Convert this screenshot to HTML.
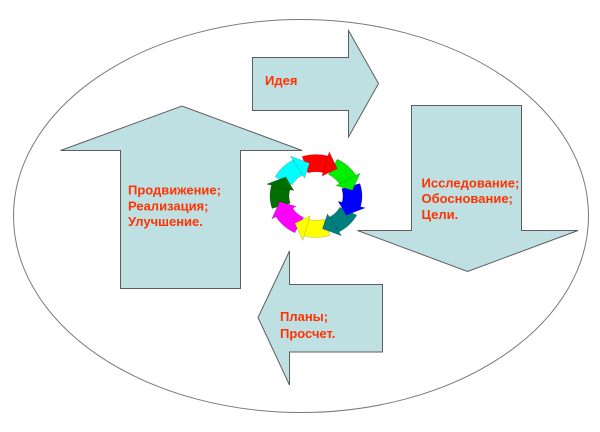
<!DOCTYPE html>
<html>
<head>
<meta charset="utf-8">
<style>
html,body{margin:0;padding:0;background:#fff;}
svg{display:block;}
text{font-family:"Liberation Sans","DejaVu Sans",sans-serif;font-weight:bold;font-size:13px;fill:#ff3300;}
</style>
</head>
<body>
<svg width="600" height="432" viewBox="0 0 600 432" xmlns="http://www.w3.org/2000/svg">
  <ellipse cx="301" cy="216" rx="287.5" ry="196.5" fill="#fff" stroke="#7a7a7a" stroke-width="1"/>

  <!-- Top arrow (right) -->
  <polygon points="252.5,57.5 348.5,57.5 348.5,30.5 378.5,83.5 348.5,137 348.5,110.5 252.5,110.5" fill="#bfe0e3" stroke="#5e5e5e" stroke-width="1"/>
  <!-- Up arrow (left) -->
  <polygon points="120.5,288.5 120.5,150.5 60.5,150.5 182,106 302,150.5 240.5,150.5 240.5,288.5" fill="#bfe0e3" stroke="#5e5e5e" stroke-width="1"/>
  <!-- Down arrow (right) -->
  <polygon points="411.5,105.5 521.5,105.5 521.5,230.5 578,230.5 467.5,271.5 357.5,230.5 411.5,230.5" fill="#bfe0e3" stroke="#5e5e5e" stroke-width="1"/>
  <!-- Left arrow (bottom) -->
  <polygon points="382.5,284.5 382.5,352 289.5,352 289.5,385 258,317.5 289.5,251 289.5,284.5" fill="#bfe0e3" stroke="#5e5e5e" stroke-width="1"/>

  <!-- Cycle ring -->
  <g transform="translate(316,196) scale(1,0.9)" stroke="rgba(0,0,0,0.25)" stroke-width="0.6">
    <g>
      <path transform="rotate(5)" fill="#ff0000" d="M -17.6 -42.5 A 46 46 0 0 1 8.8 -45.2 L 5.2 -26.5 A 27 27 0 0 0 -10.3 -24.9 Z"/>
      <path transform="rotate(50)" fill="#00ee00" d="M -17.6 -42.5 A 46 46 0 0 1 8.8 -45.2 L 5.2 -26.5 A 27 27 0 0 0 -10.3 -24.9 Z"/>
      <path transform="rotate(95)" fill="#0000ff" d="M -17.6 -42.5 A 46 46 0 0 1 8.8 -45.2 L 5.2 -26.5 A 27 27 0 0 0 -10.3 -24.9 Z"/>
      <path transform="rotate(140)" fill="#007f7f" d="M -17.6 -42.5 A 46 46 0 0 1 8.8 -45.2 L 5.2 -26.5 A 27 27 0 0 0 -10.3 -24.9 Z"/>
      <path transform="rotate(185)" fill="#ffff00" d="M -17.6 -42.5 A 46 46 0 0 1 8.8 -45.2 L 5.2 -26.5 A 27 27 0 0 0 -10.3 -24.9 Z"/>
      <path transform="rotate(230)" fill="#ff00ff" d="M -17.6 -42.5 A 46 46 0 0 1 8.8 -45.2 L 5.2 -26.5 A 27 27 0 0 0 -10.3 -24.9 Z"/>
      <path transform="rotate(275)" fill="#006f00" d="M -17.6 -42.5 A 46 46 0 0 1 8.8 -45.2 L 5.2 -26.5 A 27 27 0 0 0 -10.3 -24.9 Z"/>
      <path transform="rotate(320)" fill="#00ffff" d="M -17.6 -42.5 A 46 46 0 0 1 8.8 -45.2 L 5.2 -26.5 A 27 27 0 0 0 -10.3 -24.9 Z"/>
    </g>
    <g>
      <path transform="rotate(5)" fill="#ff0000" d="M 8.9 -50.2 L 18.5 -32.0 L 4.0 -22.6 Z"/>
      <path transform="rotate(50)" fill="#00ee00" d="M 8.9 -50.2 L 18.5 -32.0 L 4.0 -22.6 Z"/>
      <path transform="rotate(95)" fill="#0000ff" d="M 8.9 -50.2 L 18.5 -32.0 L 4.0 -22.6 Z"/>
      <path transform="rotate(140)" fill="#007f7f" d="M 8.9 -50.2 L 18.5 -32.0 L 4.0 -22.6 Z"/>
      <path transform="rotate(185)" fill="#ffff00" d="M 8.9 -50.2 L 18.5 -32.0 L 4.0 -22.6 Z"/>
      <path transform="rotate(230)" fill="#ff00ff" d="M 8.9 -50.2 L 18.5 -32.0 L 4.0 -22.6 Z"/>
      <path transform="rotate(275)" fill="#006f00" d="M 8.9 -50.2 L 18.5 -32.0 L 4.0 -22.6 Z"/>
      <path transform="rotate(320)" fill="#00ffff" d="M 8.9 -50.2 L 18.5 -32.0 L 4.0 -22.6 Z"/>
    </g>
  </g>

  <!-- Labels -->
  <text x="265" y="85">Идея</text>

  <text x="128" y="194.5">Продвижение;</text>
  <text x="128" y="210.5">Реализация;</text>
  <text x="128" y="226">Улучшение.</text>

  <text x="421.5" y="187.5">Исследование;</text>
  <text x="421.5" y="203">Обоснование;</text>
  <text x="421.5" y="219">Цели.</text>

  <text x="280" y="321">Планы;</text>
  <text x="280" y="338">Просчет.</text>
</svg>
</body>
</html>
